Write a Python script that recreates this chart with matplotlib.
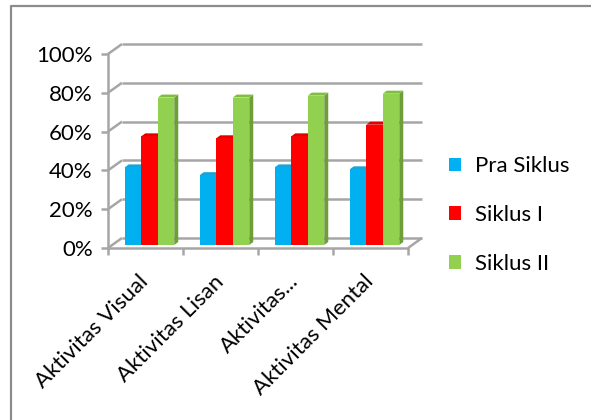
import matplotlib
matplotlib.use("Agg")
import matplotlib.pyplot as plt
from matplotlib.patches import Polygon, Patch
from matplotlib.lines import Line2D

# ---- data ----
categories = ["Aktivitas Visual", "Aktivitas Lisan", "Aktivitas...", "Aktivitas Mental"]
series_names = ["Pra Siklus", "Siklus I", "Siklus II"]
pra_siklus = [0.40, 0.36, 0.40, 0.39]
siklus_1 = [0.56, 0.55, 0.56, 0.62]
siklus_2 = [0.76, 0.76, 0.77, 0.78]
y_ticks = [0.0, 0.2, 0.4, 0.6, 0.8, 1.0]
y_labels = ["0%", "20%", "40%", "60%", "80%", "100%"]

# ---- style ----
face_colors = ["#00B0F0", "#FF0000", "#92D050"]
side_colors = ["#0089BE", "#C00000", "#6E9E3A"]
top_colors = ["#16A4DC", "#E00000", "#7FBE40"]
grid_color = "#A6A6A6"
plt.rcParams["font.family"] = ["Lato", "DejaVu Sans"]
FS = 16

W, H = 591, 420
fig = plt.figure(figsize=(W / 100, H / 100), dpi=100)


def px_box(l, t, r, b):
    return [l / W, 1 - b / H, (r - l) / W, (b - t) / H]


# front plane of the plot area: x 0..4 categories, y 0..1
ax = fig.add_axes(px_box(108, 54, 408, 248))
n = len(categories)
ax.set_xlim(0, n)
ax.set_ylim(0, 1)

# depth of the box (back wall offset) and of each bar, in data units
DX, DY = 14 / 75, 10 / 194
BX, BY = 4 / 75, 3 / 194
SX, SY = 4 / 75, 3 / 194       # bars sit slightly behind the front edge
BW = 0.22
group_off = (1 - 3 * BW) / 2

# walls: left wall diagonals and back-wall gridlines
line_kw = dict(color=grid_color, lw=1.8, clip_on=False, solid_capstyle="butt")
for t in y_ticks:
    ax.add_line(Line2D([0, DX], [t, t + DY], zorder=1, **line_kw))
    ax.add_line(Line2D([DX, n + DX], [t + DY, t + DY], zorder=1, **line_kw))
# floor right edge
ax.add_line(Line2D([n, n + DX], [0, DY], zorder=1, **line_kw))

# bars with side and top faces
all_series = [pra_siklus, siklus_1, siklus_2]
z = 3
for i in range(n):
    for k, vals in enumerate(all_series):
        v = vals[i]
        x0 = i + group_off + k * BW + SX
        x1 = x0 + BW
        b = SY
        top = b + v
        side = Polygon([(x1, b), (x1 + BX, b + BY), (x1 + BX, top + BY), (x1, top)],
                       closed=True, facecolor=side_colors[k], edgecolor="none",
                       zorder=z, clip_on=False)
        ax.add_patch(side)
        lid = Polygon([(x0, top), (x0 + BX, top + BY), (x1 + BX, top + BY), (x1, top)],
                      closed=True, facecolor=top_colors[k], edgecolor="none",
                      zorder=z, clip_on=False)
        ax.add_patch(lid)
        ax.bar(x0, v, bottom=b, width=BW, align="edge", color=face_colors[k],
               edgecolor="none", zorder=z + 0.5, clip_on=False)
        z += 1

# axes lines and ticks
for s in ["top", "right"]:
    ax.spines[s].set_visible(False)
for s in ["left", "bottom"]:
    ax.spines[s].set_color(grid_color)
    ax.spines[s].set_linewidth(1.8)
    ax.spines[s].set_zorder(2)
ax.set_facecolor("none")

ax.set_yticks(y_ticks)
ax.set_yticklabels(y_labels, fontsize=FS, color="#000000")
ax.tick_params(axis="y", length=5, width=1.8, color=grid_color, pad=6)

ax.set_xticks(range(n + 1))
ax.set_xticklabels([""] * (n + 1))
ax.tick_params(axis="x", which="major", length=5, width=1.8, color=grid_color)
ax.set_xticks([i + 0.5 for i in range(n)], minor=True)
ax.set_xticklabels(categories, minor=True, fontsize=FS, rotation=45,
                   ha="right", va="center", rotation_mode="anchor")
ax.tick_params(axis="x", which="minor", length=0, pad=22)

# legend
handles = [Patch(facecolor=c, edgecolor="none") for c in face_colors]
fig.legend(handles, series_names, loc="center left",
           bbox_to_anchor=(429 / W, 1 - 215 / H), frameon=False,
           fontsize=FS, handlelength=0.55, handleheight=0.55,
           handletextpad=0.6, labelspacing=1.3)

# chart border (left and top edges)
fig.add_artist(Line2D([11 / W, 11 / W, 1.0], [0.0, 1 - 6 / H, 1 - 6 / H],
                      transform=fig.transFigure, color="#8C8C8C", lw=1.6))

fig.savefig("out.png", dpi=100)
